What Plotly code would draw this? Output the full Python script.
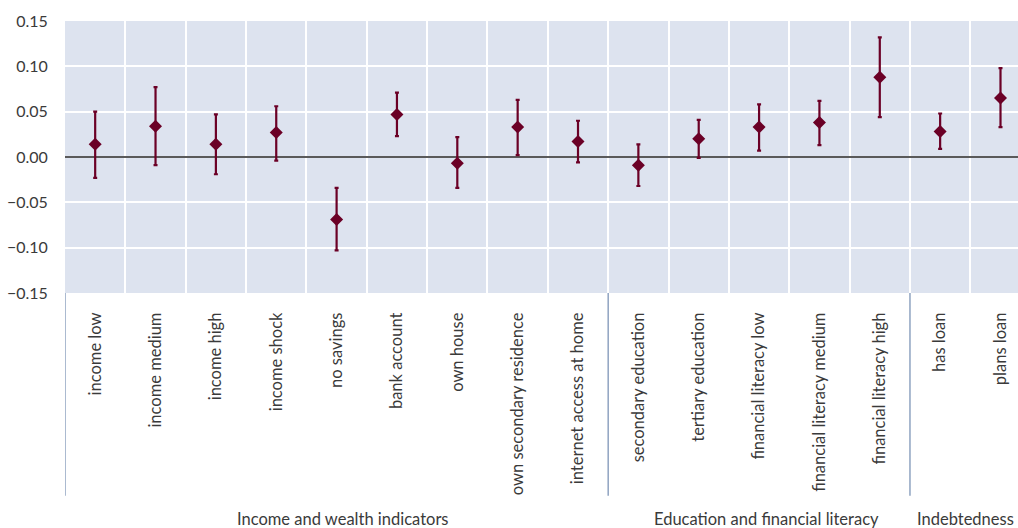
import plotly.graph_objects as go

# Marginal effects with confidence bounds for each household characteristic
categories = [
    "income low", "income medium", "income high", "income shock", "no savings",
    "bank account", "own house", "own secondary residence", "internet access at home",
    "secondary education", "tertiary education", "financial literacy low",
    "financial literacy medium", "financial literacy high", "has loan", "plans loan",
]
estimate = [0.014, 0.034, 0.014, 0.027, -0.069, 0.047, -0.007, 0.033, 0.017,
            -0.009, 0.020, 0.033, 0.038, 0.088, 0.028, 0.065]
upper = [0.050, 0.077, 0.047, 0.056, -0.034, 0.071, 0.022, 0.063, 0.040,
         0.014, 0.041, 0.058, 0.062, 0.132, 0.048, 0.098]
lower = [-0.023, -0.009, -0.019, -0.004, -0.103, 0.023, -0.034, 0.002, -0.006,
         -0.032, -0.001, 0.007, 0.013, 0.044, 0.009, 0.033]

groups = ["Income and wealth indicators", "Education and financial literacy", "Indebtedness"]
group_bounds = [(0, 8), (9, 13), (14, 15)]
group_shift = [6, 7, -5]
y_ticks = [-0.15, -0.10, -0.05, 0.00, 0.05, 0.10, 0.15]

MAROON = "#6b0026"
FONT = "Lato"
TEXT = "#3a3a3a"

xpos = list(range(len(categories)))
err_plus = [u - e for u, e in zip(upper, estimate)]
err_minus = [e - l for e, l in zip(estimate, lower)]

fig = go.Figure(go.Scatter(
    x=xpos, y=estimate, mode="markers",
    marker=dict(symbol="diamond", size=10, color=MAROON),
    error_y=dict(type="data", symmetric=False, array=err_plus, arrayminus=err_minus,
                 color=MAROON, thickness=2.2, width=2),
    showlegend=False, hoverinfo="skip",
))

fig.update_layout(
    width=1018, height=528,
    margin=dict(l=65, r=0, t=21, b=235),
    plot_bgcolor="#dde3ef", paper_bgcolor="white",
    font=dict(family=FONT, color=TEXT),
)

fig.update_xaxes(
    range=[-0.5, 15.29], tickvals=xpos, ticktext=categories, tickangle=-90,
    tickfont=dict(size=16.5, color=TEXT, family=FONT),
    showgrid=False, zeroline=False, showline=False,
    ticks="outside", ticklen=12, tickcolor="rgba(0,0,0,0)",
    minor=dict(tickvals=[i + 0.5 for i in range(len(categories) - 1)],
               showgrid=True, gridcolor="white", gridwidth=2, ticks=""),
)
fig.update_yaxes(
    range=[-0.15, 0.15], tickvals=y_ticks, tickformat=".2f",
    tickfont=dict(size=16, color=TEXT, family=FONT),
    showgrid=True, gridcolor="white", gridwidth=2,
    zeroline=True, zerolinecolor="#5a5a5a", zerolinewidth=1.6,
    showline=False, ticks="outside", ticklen=13, tickcolor="rgba(0,0,0,0)",
)

# Group separators and group captions beneath the category labels
for (start, end), name, dx in zip(group_bounds, groups, group_shift):
    fig.add_shape(type="line", xref="x", yref="paper",
                  x0=start - 0.5, x1=start - 0.5, y0=0, y1=-0.745,
                  line=dict(color="#8fa3c0", width=1.5))
    fig.add_annotation(x=(start + end) / 2, xref="x", y=-0.83, yref="paper",
                       text=name, showarrow=False, yanchor="middle", xshift=dx,
                       font=dict(size=16.5, color=TEXT, family=FONT))

fig.write_html("out.html")
